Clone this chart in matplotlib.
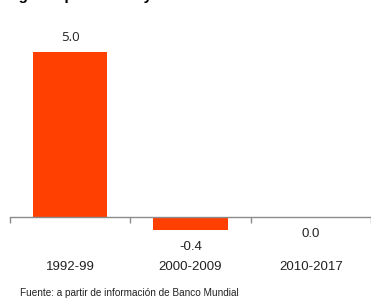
import matplotlib
matplotlib.use("Agg")
import matplotlib.pyplot as plt

# Datos del gráfico
periodos = ["1992-99", "2000-2009", "2010-2017"]
valores = [5.0, -0.4, 0.0]
titulo = "Ingreso por adulto y"
fuente = "Fuente: a partir de información de Banco Mundial"

color_barra = "#FF4000"
color_eje = "#8C8C8C"

fig = plt.figure(figsize=(3.71, 3.01), dpi=100)
ax = fig.add_axes([10 / 371, 0.1694, 361 / 371, 0.7236])

posiciones = list(range(len(periodos)))
barras = ax.bar(posiciones, valores, width=0.62, color=color_barra, zorder=2)

ax.set_xlim(-0.5, len(periodos) - 0.5)
ax.set_ylim(-1.0, 5.6)

# Etiquetas de valores
for barra, valor in zip(barras, valores):
    x = barra.get_x() + barra.get_width() / 2
    if valor > 0:
        ax.annotate(f"{valor:.1f}", (x, valor), xytext=(0, 10.8),
                    textcoords="offset points", ha="center", va="center",
                    fontsize=9.5, family="Open Sans", color="#222222")
    else:
        ax.annotate(f"{valor:.1f}", (x, valor), xytext=(0, -12),
                    textcoords="offset points", ha="center", va="center",
                    fontsize=9.5, family="Liberation Sans", color="#222222")

# Ejes y marcas
for lado in ["top", "right", "left"]:
    ax.spines[lado].set_visible(False)
ax.spines["bottom"].set_position(("data", 0))
ax.spines["bottom"].set_color(color_eje)
ax.spines["bottom"].set_linewidth(1.0)
ax.set_yticks([])

ax.set_xticks(posiciones)
ax.set_xticklabels(periodos, fontsize=9.5, family="Liberation Sans", color="#222222")
ax.tick_params(axis="x", which="major", length=0, pad=31.5)
ax.set_xticks([p - 0.5 for p in posiciones] + [len(periodos) - 0.5], minor=True)
ax.tick_params(axis="x", which="minor", direction="out", length=4,
               color=color_eje, width=1.0)

# Título (recortado en el original: solo se ven los trazos inferiores) y fuente
fig.text(5 / 371, 1.0, titulo, ha="left", va="baseline",
         fontsize=11, fontweight="bold", family="Liberation Sans")
fig.text(20 / 371, 8 / 301, fuente, ha="left", va="center",
         fontsize=7.2, family="Liberation Sans", color="#222222")

fig.savefig("out.png", dpi=100)
